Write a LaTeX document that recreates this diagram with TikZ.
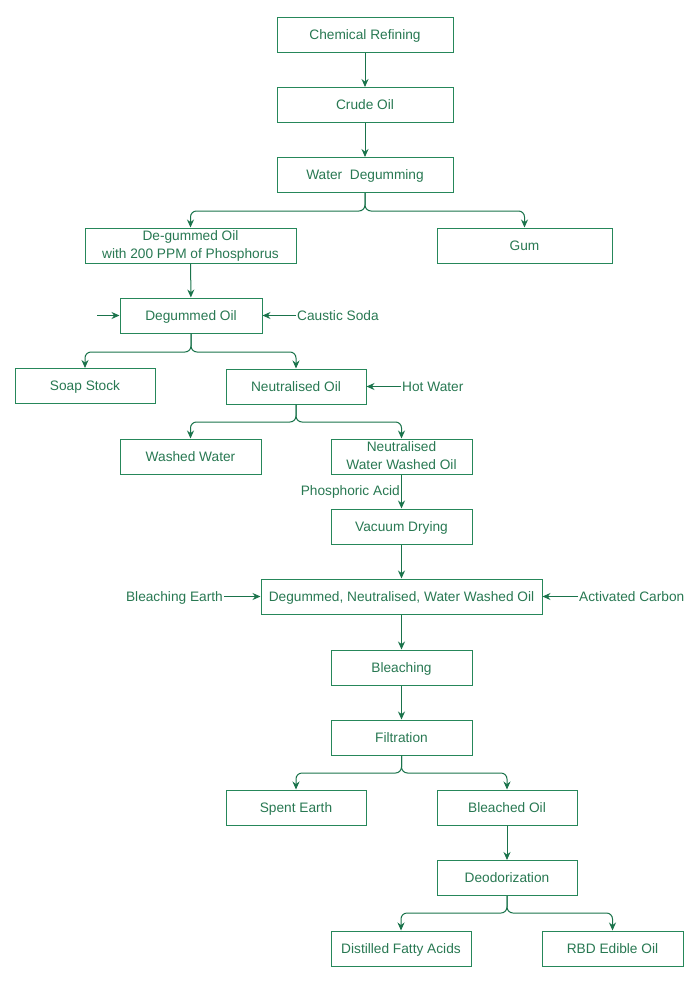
\documentclass[tikz,border=0pt]{standalone}
\usepackage{fontspec}
\setmainfont{Liberation Sans}
\usetikzlibrary{arrows.meta}
\definecolor{gbox}{RGB}{38,135,90}
\definecolor{gtxt}{RGB}{40,120,82}
\definecolor{gline}{RGB}{26,115,75}
\begin{document}
\begin{tikzpicture}[x=1pt,y=-1pt,
  boxtwo/.style={draw=gbox,line width=1pt,minimum height=35pt,inner sep=1pt,
    text=gtxt,font=\fontsize{13.7}{16}\selectfont,align=center},
  box/.style={boxtwo,text height=9.8pt,text depth=0pt},
  lbl/.style={text=gtxt,font=\fontsize{13.7}{16}\selectfont,inner sep=1pt,
    text height=9.8pt,text depth=0pt},
  arr/.style={draw=gline,line width=1pt,-{Stealth[length=8pt,width=7pt]}},
  br/.style={arr,rounded corners=6pt}]
\useasboundingbox (0,0) rectangle (700,983);
\node[box,minimum width=176pt] (cr) at (365,35) {Chemical Refining};
\node[box,minimum width=176pt] (co) at (365,105) {Crude Oil};
\node[box,minimum width=176pt] (wd) at (365,175) {Water\ \ Degumming};
\node[boxtwo,minimum width=211pt] (dg) at (190.5,245.5) {De-gummed Oil\\[2pt]with 200 PPM of Phosphorus\rule[-1pt]{0pt}{1pt}};
\node[box,minimum width=175pt] (gum) at (524.5,245.5) {Gum};
\node[box,minimum width=142pt] (do) at (191,315.5) {Degummed Oil};
\node[lbl,anchor=west] (cs) at (296,316) {Caustic Soda};
\coordinate (din) at (97,315.5);
\node[box,minimum width=140pt] (ss) at (85,386) {Soap Stock};
\node[box,minimum width=140pt] (no) at (296,386.5) {Neutralised Oil};
\node[lbl,anchor=west] (hw) at (401,386.5) {Hot Water};
\node[box,minimum width=141pt] (ww) at (190.5,456.5) {Washed Water};
\node[boxtwo,minimum width=141pt] (nw) at (401.5,456.5) {Neutralised\\[2pt]Water Washed Oil\rule[-1pt]{0pt}{1pt}};
\node[lbl,anchor=east] (pa) at (401,491) {Phosphoric Acid};
\node[box,minimum width=141pt] (vd) at (401.5,526.5) {Vacuum Drying};
\node[box,minimum width=281pt] (dn) at (401.5,596.5) {Degummed, Neutralised, Water Washed Oil};
\node[lbl,anchor=east] (be) at (224,597) {Bleaching Earth};
\node[lbl,anchor=west] (ac) at (578,597) {Activated Carbon};
\node[box,minimum width=141pt] (bl) at (401.5,667.5) {Bleaching};
\node[box,minimum width=141pt] (fi) at (401.5,737.5) {Filtration};
\node[box,minimum width=140pt] (se) at (296,807.5) {Spent Earth};
\node[box,minimum width=140pt] (bo) at (507,807.5) {Bleached Oil};
\node[box,minimum width=140pt] (de) at (507,878) {Deodorization};
\node[box,minimum width=140pt] (df) at (401,948.5) {Distilled Fatty Acids};
\node[box,minimum width=141pt] (rbd) at (612.5,948.5) {RBD Edible Oil};
\coordinate (b1) at (365,211);
\coordinate (b2) at (191,352);
\coordinate (b3) at (296,422);
\coordinate (b4) at (401.5,773);
\coordinate (b5) at (507,913);
\draw[arr] (cr) -- (co);
\draw[arr] (co) -- (wd);
\draw[br] (wd.south) -- (b1) -| (dg.north);
\draw[br] (wd.south) -- (b1) -| (gum.north);
\draw[arr] (dg) -- (do);
\draw[arr] (din) -- (do.west);
\draw[arr] (cs.west |- do.east) -- (do.east);
\draw[br] (do.south) -- (b2) -| (ss.north);
\draw[br] (do.south) -- (b2) -| (no.north);
\draw[arr] (hw.west |- no.east) -- (no.east);
\draw[br] (no.south) -- (b3) -| (ww.north);
\draw[br] (no.south) -- (b3) -| (nw.north);
\draw[arr] (nw) -- (vd);
\draw[arr] (vd) -- (dn);
\draw[arr] (be.east |- dn.west) -- (dn.west);
\draw[arr] (ac.west |- dn.east) -- (dn.east);
\draw[arr] (dn) -- (bl);
\draw[arr] (bl) -- (fi);
\draw[br] (fi.south) -- (b4) -| (se.north);
\draw[br] (fi.south) -- (b4) -| (bo.north);
\draw[arr] (bo) -- (de);
\draw[br] (de.south) -- (b5) -| (df.north);
\draw[br] (de.south) -- (b5) -| (rbd.north);
\end{tikzpicture}
\end{document}
